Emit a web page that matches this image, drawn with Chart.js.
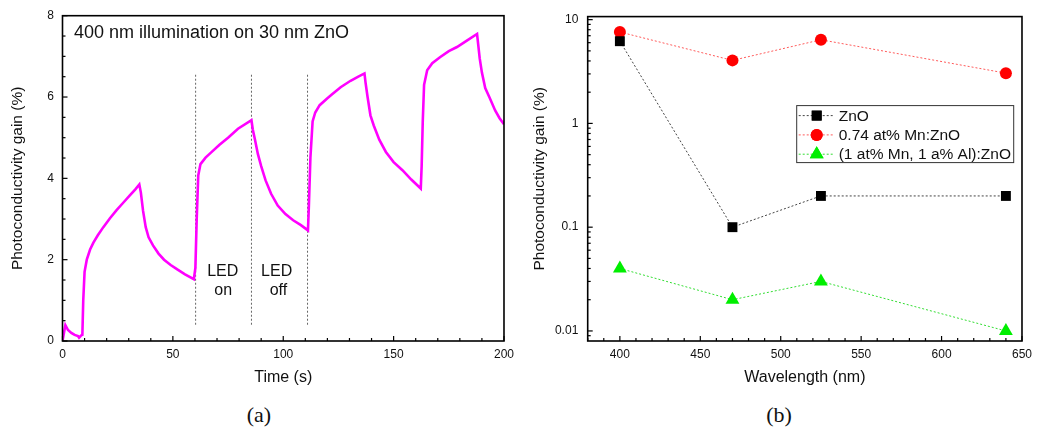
<!DOCTYPE html>
<html>
<head>
<meta charset="utf-8">
<script src="https://cdn.jsdelivr.net/npm/chart.js@4.4.0/dist/chart.umd.min.js"></script>
<style>
  body { margin: 0; background: #fff; width: 1038px; height: 437px; overflow: hidden; position: relative; }
  #left { position: absolute; left: 0; top: 0; }
  #right { position: absolute; left: 520px; top: 0; }
  .cap { position: absolute; top: 402px; width: 60px; text-align: center;
         font-family: "Liberation Serif", "DejaVu Serif", serif; font-size: 22px; color: #111; }
</style>
</head>
<body>
<canvas id="left" width="520" height="400"></canvas>
<canvas id="right" width="518" height="400"></canvas>
<div class="cap" style="left:229px">(a)</div>
<div class="cap" style="left:749px">(b)</div>
<script>
// (a) photoconductivity transient, 400 nm LED switched on/off
const timeS = [0, 1.3, 2.5, 4, 5.5, 7, 7.5, 8.5, 9, 9.4, 10, 11, 12.5, 14, 16, 18.5, 21.5, 24.5, 27.5, 30.5,
  33, 34.8, 35.5, 36.5, 37.7, 39, 41, 43.5, 46, 49, 52, 55.5, 59.5, 60.2, 60.8, 61.5, 62.5, 64.8, 67, 71,
  75, 79.5, 85.6, 86.2, 87.2, 88.5, 90, 92, 94.5, 97.5, 101, 104.5, 108, 111.2, 111.6, 112.3, 113.3, 114.5, 116.5, 120,
  122, 126, 130.5, 134, 136.8, 137.3, 138.2, 139.5, 141, 143.5, 146.5, 150, 154, 158, 162.3, 162.7, 163.2, 163.8, 165.2, 167.5,
  171, 175, 178.7, 183, 187.8, 188.3, 189, 190, 191.5, 193.5, 196, 198, 200];
const gainPct = [0, 0.39, 0.27, 0.2, 0.15, 0.12, 0.08, 0.14, 0.15, 1.0, 1.7, 2.0, 2.25, 2.42, 2.6, 2.8, 3.02, 3.22, 3.4, 3.58,
  3.73, 3.85, 3.65, 3.2, 2.8, 2.55, 2.35, 2.15, 2.0, 1.87, 1.76, 1.64, 1.52, 1.8, 3.0, 4.07, 4.35, 4.51, 4.62, 4.82,
  5.0, 5.22, 5.43, 5.2, 4.95, 4.6, 4.3, 3.95, 3.62, 3.33, 3.12, 2.97, 2.85, 2.72, 3.3, 4.5, 5.4, 5.62, 5.8, 5.97,
  6.06, 6.24, 6.4, 6.5, 6.58, 6.35, 6.0, 5.55, 5.3, 4.95, 4.65, 4.4, 4.2, 3.97, 3.75, 4.3, 5.4, 6.3, 6.66, 6.83,
  6.98, 7.13, 7.23, 7.38, 7.55, 7.3, 6.95, 6.6, 6.22, 5.98, 5.67, 5.48, 5.33];
const ledSwitchTimes = [60.3, 85.6, 111];
const ledLineSpan = [0.4, 6.6];

// (b) gain vs wavelength
const wavelengthNm = [400, 470, 525, 640];
const znoGain = [6.2, 0.1, 0.2, 0.2];
const mnZnoGain = [7.6, 4.05, 6.4, 3.05];
const mnAlZnoGain = [0.04, 0.02, 0.03, 0.01];
const seriesLabels = ['ZnO', '0.74 at% Mn:ZnO', '(1 at% Mn, 1 a% Al):ZnO'];
const logTickValues = [0.009, 0.01, 0.02, 0.03, 0.04, 0.05, 0.06, 0.07, 0.08, 0.09, 0.1, 0.2, 0.3, 0.4, 0.5, 0.6, 0.7, 0.8, 0.9,
  1, 2, 3, 4, 5, 6, 7, 8, 9, 10];
const logTickLabels = [0.01, 0.1, 1, 10];

const FAMILY = '"Liberation Sans", Arial, sans-serif';
Chart.defaults.font.family = FAMILY;
Chart.defaults.color = '#111';

// inward tick marks + box frame, like the Origin plots
const frameTicks = {
  id: 'frameTicks',
  afterDatasetsDraw(chart) {
    const { ctx, chartArea: a, scales } = chart;
    ctx.save();
    ctx.strokeStyle = '#000';
    ctx.lineWidth = 1.2;
    [scales.x, scales.y].forEach(s => {
      s.ticks.forEach(t => {
        const p = s.getPixelForValue(t.value);
        const len = t.label !== '' ? 5 : 3;
        ctx.beginPath();
        if (s.isHorizontal()) { ctx.moveTo(p, a.bottom); ctx.lineTo(p, a.bottom - len); }
        else { ctx.moveTo(a.left, p); ctx.lineTo(a.left + len, p); }
        ctx.stroke();
      });
    });
    ctx.lineWidth = 1.6;
    ctx.strokeRect(a.left, a.top, a.right - a.left, a.bottom - a.top);
    ctx.restore();
  }
};

const notes = [
  { text: '400 nm illumination on 30 nm ZnO', x: 5.2, y: 7.57, align: 'left', size: 18 },
  { text: 'LED', x: 72.6, y: 1.7, align: 'center', size: 16 },
  { text: 'on', x: 72.8, y: 1.24, align: 'center', size: 16 },
  { text: 'LED', x: 97, y: 1.7, align: 'center', size: 16 },
  { text: 'off', x: 97.8, y: 1.24, align: 'center', size: 16 }
];
const notesPlugin = {
  id: 'notes',
  afterDraw(chart) {
    const { ctx, scales } = chart;
    ctx.save();
    ctx.fillStyle = '#111';
    ctx.textBaseline = 'middle';
    notes.forEach(n => {
      ctx.font = n.size + 'px ' + FAMILY;
      ctx.textAlign = n.align;
      ctx.fillText(n.text, scales.x.getPixelForValue(n.x), scales.y.getPixelForValue(n.y));
    });
    ctx.restore();
  }
};

const boxLegend = {
  id: 'boxLegend',
  afterDraw(chart) {
    const { ctx, chartArea: a } = chart;
    const left = a.left + 209, top = a.top + 89, w = 217, h = 57;
    ctx.save();
    ctx.fillStyle = '#fff';
    ctx.fillRect(left, top, w, h);
    ctx.strokeStyle = '#333';
    ctx.lineWidth = 1;
    ctx.strokeRect(left, top, w, h);
    chart.data.datasets.forEach((ds, i) => {
      const y = top + 10 + i * 19.3;
      ctx.strokeStyle = ds.borderColor;
      ctx.lineWidth = 1;
      ctx.setLineDash([2, 2]);
      ctx.beginPath(); ctx.moveTo(left + 2, y); ctx.lineTo(left + 36, y); ctx.stroke();
      ctx.setLineDash([]);
      ctx.fillStyle = ds.pointBackgroundColor;
      Chart.helpers.drawPoint(ctx, { pointStyle: ds.pointStyle, radius: ds.pointRadius, borderWidth: 0, rotation: 0 }, left + 20, y);
      ctx.fill();
      ctx.fillStyle = '#111';
      ctx.font = '15.5px ' + FAMILY;
      ctx.textAlign = 'left';
      ctx.textBaseline = 'middle';
      ctx.fillText(ds.label, left + 42, y + 1);
    });
    ctx.restore();
  }
};

const tickFont = { size: 12 };
const titleFont = { size: 16 };

new Chart(document.getElementById('left'), {
  type: 'line',
  data: {
    datasets: [
      {
        data: timeS.map((t, i) => ({ x: t, y: gainPct[i] })),
        borderColor: '#ff00ff', borderWidth: 2.6, pointRadius: 0, tension: 0
      },
      ...ledSwitchTimes.map(t => ({
        data: [{ x: t, y: ledLineSpan[0] }, { x: t, y: ledLineSpan[1] }],
        borderColor: '#666', borderWidth: 1, borderDash: [2, 2], pointRadius: 0
      }))
    ]
  },
  options: {
    responsive: false,
    animation: false,
    layout: { padding: { top: 12, right: 12.5, left: 0, bottom: 0 } },
    plugins: { legend: { display: false }, tooltip: { enabled: false } },
    scales: {
      x: {
        type: 'linear', min: 0, max: 200,
        afterFit: s => { s.height = 59; },
        grid: { display: false, drawTicks: false },
        border: { display: false },
        ticks: { stepSize: 10, autoSkip: false, maxRotation: 0, padding: 6, font: tickFont,
                 callback: v => (v % 50 === 0 ? v : '') },
        title: { display: true, text: 'Time (s)', font: titleFont, padding: { top: 0, bottom: 12.4 } }
      },
      y: {
        min: 0, max: 8,
        afterFit: s => { s.width = 62.5; },
        grid: { display: false, drawTicks: false },
        border: { display: false },
        ticks: { stepSize: 0.5, autoSkip: false, padding: 8.5, font: tickFont,
                 callback: v => (v % 2 === 0 ? v : '') },
        title: { display: true, text: 'Photoconductivity gain (%)', font: { size: 15.5 }, padding: { top: 8.7, bottom: 0 } }
      }
    }
  },
  plugins: [frameTicks, notesPlugin]
});

const rightSeries = [
  { values: znoGain, line: '#444', fill: '#000', style: 'rect', r: 7 },
  { values: mnZnoGain, line: '#ff5a5a', fill: '#ff0000', style: 'circle', r: 6 },
  { values: mnAlZnoGain, line: '#33dd33', fill: '#00ee00', style: 'triangle', r: 8 }
];

new Chart(document.getElementById('right'), {
  type: 'line',
  data: {
    datasets: rightSeries.map((s, i) => ({
      label: seriesLabels[i],
      data: wavelengthNm.map((w, j) => ({ x: w, y: s.values[j] })),
      borderColor: s.line, borderWidth: 1, borderDash: [2, 2],
      pointStyle: s.style, pointRadius: s.r,
      pointBackgroundColor: s.fill, pointBorderColor: s.fill, pointBorderWidth: 0,
      clip: false, tension: 0
    }))
  },
  options: {
    responsive: false,
    animation: false,
    layout: { padding: { top: 14.3, right: 10.3, left: 0, bottom: 0 } },
    plugins: { legend: { display: false }, tooltip: { enabled: false } },
    scales: {
      x: {
        type: 'linear', min: 380, max: 650,
        afterFit: s => { s.height = 59; },
        grid: { display: false, drawTicks: false },
        border: { display: false },
        ticks: { stepSize: 10, autoSkip: false, maxRotation: 0, padding: 6, font: tickFont,
                 callback: v => (v % 50 === 0 ? v : '') },
        title: { display: true, text: 'Wavelength (nm)', font: titleFont, padding: { top: 0, bottom: 12.4 } }
      },
      y: {
        type: 'logarithmic', min: 0.008, max: 10.7,
        afterFit: s => { s.width = 67.7; },
        afterBuildTicks: s => { s.ticks = logTickValues.map(v => ({ value: v })); },
        grid: { display: false, drawTicks: false },
        border: { display: false },
        ticks: { autoSkip: false, padding: 9.4, font: tickFont,
                 callback: v => (logTickLabels.includes(v) ? String(v) : '') },
        title: { display: true, text: 'Photoconductivity gain (%)', font: { size: 15.5 }, padding: { top: 10.7, bottom: 0 } }
      }
    }
  },
  plugins: [frameTicks, boxLegend]
});
</script>
</body>
</html>
